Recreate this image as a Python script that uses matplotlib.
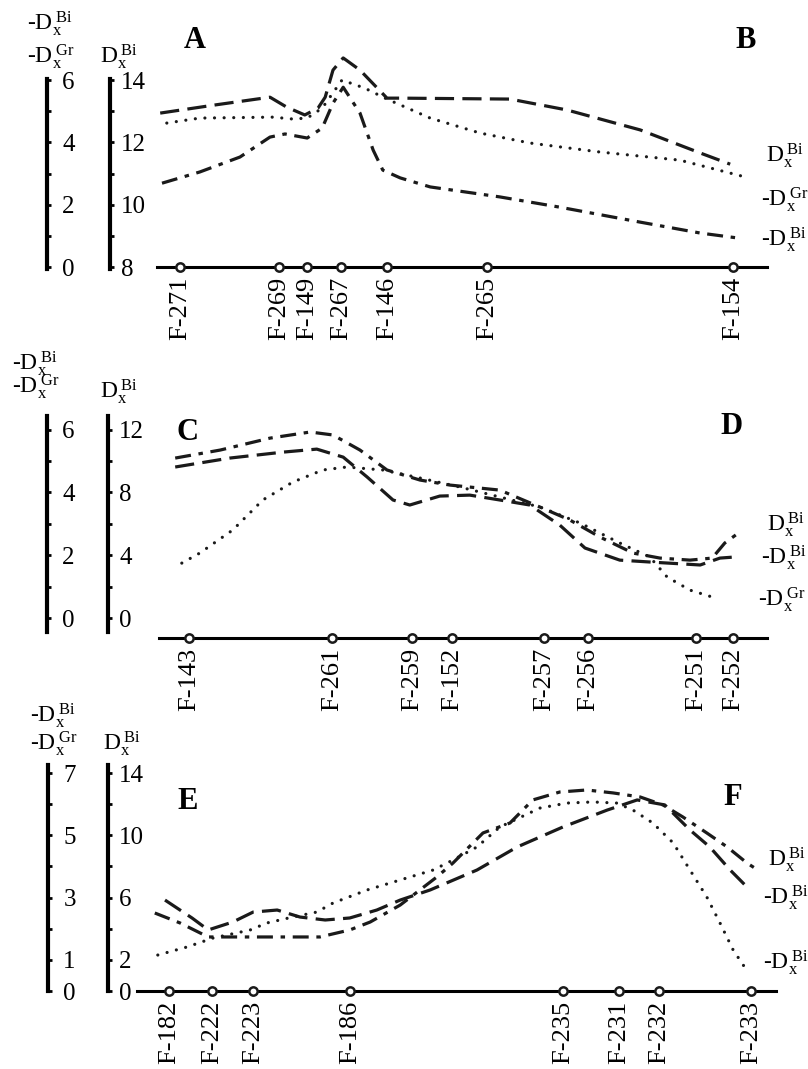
import matplotlib
matplotlib.use('Agg')
import matplotlib.pyplot as plt

plt.rcParams['font.family'] = 'serif'
plt.rcParams['font.serif'] = ['Liberation Serif', 'DejaVu Serif']
plt.rcParams['mathtext.fontset'] = 'custom'
plt.rcParams['mathtext.rm'] = 'Liberation Serif'
plt.rcParams['mathtext.it'] = 'Liberation Serif:italic'
plt.rcParams['mathtext.bf'] = 'Liberation Serif:bold'

#%% data : wells along the profiles (distance, arbitrary units)

wells_ab = ['F-271', 'F-269', 'F-149', 'F-267', 'F-146', 'F-265', 'F-154']
wells_ab_x = [5.0, 21.5, 26.2, 31.8, 39.5, 56.2, 97.2]

wells_cd = ['F-143', 'F-261', 'F-259', 'F-152', 'F-257', 'F-256', 'F-251', 'F-252']
wells_cd_x = [6.5, 30.3, 43.7, 50.3, 65.7, 73.0, 91.0, 97.2]

wells_ef = ['F-182', 'F-222', 'F-223', 'F-186', 'F-235', 'F-231', 'F-232', 'F-233']
wells_ef_x = [3.2, 10.3, 17.2, 33.3, 68.8, 78.2, 84.8, 100.2]

# profile A-B
ab_dash_x = [1.7, 10.8, 20.0, 22.8, 25.8, 28.0, 29.2, 30.5, 32.2, 35.0, 39.5, 41.7,
             60.0, 69.5, 81.7, 91.7, 96.7]
ab_dash_y = [12.94, 13.20, 13.45, 13.13, 12.88, 13.10, 13.45, 14.32, 14.71, 14.32, 13.42, 13.42,
             13.39, 13.04, 12.40, 11.66, 11.30]
ab_dot_x = [2.8, 8.3, 20.5, 23.8, 26.2, 28.7, 32.0, 35.8, 39.5, 46.7, 55.0, 63.3, 75.0, 88.3, 99.2]
ab_dot_y = [12.62, 12.78, 12.81, 12.75, 12.78, 13.10, 14.00, 13.74, 13.39, 12.78, 12.30, 11.98,
            11.69, 11.43, 10.89]
ab_dd_x = [2.0, 8.3, 15.0, 20.0, 22.5, 26.2, 28.7, 30.5, 32.2, 35.0, 37.2, 38.8, 41.7, 46.7,
           58.3, 68.3, 81.7, 91.7, 98.0]
ab_dd_y = [10.69, 11.05, 11.53, 12.17, 12.27, 12.14, 12.46, 13.26, 13.77, 12.94, 11.75, 11.11,
           10.86, 10.57, 10.25, 9.92, 9.44, 9.09, 8.93]

# profile C-D
cd_dash_x = [4.2, 13.3, 22.2, 27.8, 32.2, 36.2, 40.5, 43.3, 48.3, 53.3, 58.3, 63.3, 68.3, 72.5,
             78.3, 83.3, 91.7, 95.0, 97.5]
cd_dash_y = [9.62, 10.19, 10.57, 10.76, 10.25, 8.98, 7.52, 7.20, 7.77, 7.83, 7.52, 7.20, 5.92,
             4.46, 3.69, 3.57, 3.38, 3.82, 3.89]
cd_dot_x = [5.3, 8.3, 13.8, 18.8, 23.8, 28.8, 32.8, 38.8, 45.0, 51.7, 58.3, 65.0, 71.7, 78.3,
            83.3, 86.2, 90.0, 93.7]
cd_dot_y = [3.50, 4.14, 5.61, 7.52, 8.66, 9.43, 9.62, 9.43, 8.92, 8.34, 7.71, 7.07, 6.05, 4.78,
            3.89, 2.61, 1.78, 1.34]
cd_dd_x = [4.2, 11.7, 20.0, 26.7, 30.5, 35.0, 39.5, 45.0, 50.0, 58.3, 65.0, 70.0, 75.0, 80.5,
           85.0, 90.0, 93.7, 95.8, 98.3]
cd_dd_y = [10.19, 10.70, 11.46, 11.85, 11.66, 10.70, 9.43, 8.79, 8.47, 8.15, 7.07, 6.24, 5.16,
           4.14, 3.82, 3.69, 3.82, 4.78, 5.48]

# profile E-F
ef_dash_x = [2.5, 7.0, 9.7, 13.8, 17.2, 21.2, 25.0, 29.2, 33.3, 37.8, 41.7, 46.7, 54.5, 61.2,
             68.8, 76.2, 81.2, 85.8, 90.0, 93.3, 96.7, 99.5]
ef_dash_y = [5.84, 4.69, 3.92, 4.43, 5.07, 5.20, 4.75, 4.56, 4.69, 5.20, 5.84, 6.49, 7.77, 9.25,
             10.53, 11.62, 12.27, 11.95, 10.34, 9.25, 7.77, 6.68]
ef_dot_x = [1.3, 6.2, 10.5, 16.7, 19.5, 23.8, 27.8, 30.5, 36.2, 41.7, 47.2, 50.5, 54.5, 58.3,
            65.0, 69.5, 73.8, 77.8, 80.5, 83.8, 87.2, 90.0, 92.8, 95.0, 97.2, 99.2]
ef_dot_y = [2.31, 2.83, 3.40, 3.92, 4.37, 4.75, 5.07, 5.65, 6.49, 7.13, 7.77, 8.41, 9.25, 10.53,
            11.75, 12.07, 12.14, 12.07, 11.62, 10.79, 9.51, 7.77, 6.04, 4.37, 2.63, 1.48]
ef_dd_x = [0.8, 5.0, 9.7, 13.8, 21.7, 28.3, 33.3, 36.7, 41.7, 47.8, 50.5, 55.5, 60.0, 63.8, 68.3,
           72.8, 77.2, 81.7, 85.5, 88.8, 92.8, 96.2, 99.5, 101.3]
ef_dd_y = [5.01, 4.37, 3.47, 3.47, 3.47, 3.47, 3.92, 4.43, 5.52, 7.32, 8.22, 10.15, 10.79, 12.27,
           12.78, 12.91, 12.72, 12.46, 11.95, 11.18, 10.15, 9.25, 8.22, 7.77]

#%% styles

D_BI = r'D$_\mathrm{x}^{\;\mathrm{Bi}}$'
MD_BI = r'-D$_\mathrm{x}^{\;\mathrm{Bi}}$'
MD_GR = r'-D$_\mathrm{x}^{\;\mathrm{Gr}}$'

LW = 2.3
dash_kw = dict(color='#1a1a1a', lw=LW, dashes=(6.0, 2.6))
dot_kw = dict(color='#1a1a1a', lw=LW, dashes=(0.01, 3.0), dash_capstyle='round')
dd_kw = dict(color='#1a1a1a', lw=LW, dashes=(5.0, 2.4, 1.4, 2.4))

W, H = 808, 1069
fig = plt.figure(figsize=(W / 100, H / 100), dpi=100)
XLIM = (-25, 109.67)
FS = 18    # tick labels
WFS = 19   # well names
LFS = 17   # curve / axis names


def panel(top, bot, ylim, ratio, shift, inner_x, outer_x, base, wells, wells_x,
          in_major, in_minor, in_bounds, out_major, out_minor, out_bounds):
    ax = fig.add_axes([0, 1 - bot / H, 1, (bot - top) / H])
    ax2 = ax.twinx()
    for a in (ax, ax2):
        a.patch.set_alpha(0)
        a.spines['left'].set_visible(False)
        a.spines['top'].set_visible(False)
    ax.set_xlim(XLIM)
    ax.set_ylim(ylim)
    ax.spines['bottom'].set_bounds(*base)
    ax.spines['bottom'].set_linewidth(2.2)
    ax2.spines['bottom'].set_visible(False)
    ax.set_xticks(wells_x, wells, rotation=90, fontsize=WFS)
    ax.tick_params(axis='x', length=0, pad=7)
    ax.plot(wells_x, [ylim[0]] * len(wells_x), 'o', ms=6, mfc='white', mec='#1a1a1a',
            mew=1.8, clip_on=False, zorder=5)

    # inner axis (D_x^Bi)
    ax.yaxis.tick_right()
    ax.yaxis.set_label_position('right')
    ax.spines['right'].set_position(('data', inner_x))
    ax.spines['right'].set_bounds(*in_bounds)
    ax.spines['right'].set_linewidth(3)
    ax.set_yticks(in_major)
    ax.set_yticks(in_minor, minor=True)
    ax.tick_params(axis='y', which='both', direction='out', length=3, width=2, pad=5,
                   labelsize=FS)

    # outer axis (-D_x^Bi, -D_x^Gr)
    ax2.set_ylim((ylim[0] - shift) / ratio, (ylim[1] - shift) / ratio)
    ax2.spines['right'].set_position(('data', outer_x))
    ax2.spines['right'].set_bounds(*out_bounds)
    ax2.spines['right'].set_linewidth(3)
    ax2.set_yticks(out_major)
    ax2.set_yticks(out_minor, minor=True)
    ax2.tick_params(axis='y', which='both', direction='out', length=3, width=2, pad=8,
                    labelsize=FS)
    return ax


# ---- A - B
ax = panel(0, 267, (8, 16.57), 1, 8, -6.7, -17.2, (1.2, 102.8), wells_ab, wells_ab_x,
           [8, 10, 12, 14], [9, 11, 13], (7.95, 14.05), [0, 2, 4, 6], [1, 3, 5], (-0.05, 6.05))
ax.plot(ab_dash_x, ab_dash_y, **dash_kw)
ax.plot(ab_dot_x, ab_dot_y, **dot_kw)
ax.plot(ab_dd_x, ab_dd_y, **dd_kw)
ax.text(7.5, 15.28, 'A', fontsize=22, fontweight='bold', ha='center', va='center')
ax.text(99.2, 15.28, 'B', fontsize=22, fontweight='bold', ha='center', va='center')
ax.text(102.7, 11.59, D_BI, fontsize=LFS, ha='left', va='center')
ax.text(101.8, 10.15, MD_GR, fontsize=LFS, ha='left', va='center')
ax.text(101.8, 8.87, MD_BI, fontsize=LFS, ha='left', va='center')
ax.text(-20.5, 15.60, MD_BI, fontsize=LFS, ha='left', va='baseline')
ax.text(-20.5, 14.54, MD_GR, fontsize=LFS, ha='left', va='baseline')
ax.text(-8.3, 14.54, D_BI, fontsize=LFS, ha='left', va='baseline')

# ---- C - D
ax = panel(340, 638, (-1.27, 17.71), 2, 0, -7.0, -17.2, (1.5, 102.8), wells_cd, wells_cd_x,
           [0, 4, 8, 12], [2, 6, 10], (-0.9, 12.9), [0, 2, 4, 6], [1, 3, 5], (-0.45, 6.45))
ax.plot(cd_dash_x, cd_dash_y, **dash_kw)
ax.plot(cd_dot_x, cd_dot_y, **dot_kw)
ax.plot(cd_dd_x, cd_dd_y, **dd_kw)
ax.text(6.2, 11.85, 'C', fontsize=22, fontweight='bold', ha='center', va='center')
ax.text(97.0, 12.17, 'D', fontsize=22, fontweight='bold', ha='center', va='center')
ax.text(102.8, 5.92, D_BI, fontsize=LFS, ha='left', va='center')
ax.text(101.8, 3.82, MD_BI, fontsize=LFS, ha='left', va='center')
ax.text(101.3, 1.15, MD_GR, fontsize=LFS, ha='left', va='center')
ax.text(-23.0, 15.80, MD_BI, fontsize=LFS, ha='left', va='baseline')
ax.text(-23.0, 14.33, MD_GR, fontsize=LFS, ha='left', va='baseline')
ax.text(-8.3, 14.01, D_BI, fontsize=LFS, ha='left', va='baseline')

# ---- E - F
ax = panel(695, 991, (0, 19.01), 2, 0, -7.0, -17.0, (-2.2, 104.3), wells_ef, wells_ef_x,
           [0, 2, 6, 10, 14], [4, 8, 12], (0, 14.5), [0, 1, 3, 5, 7], [2, 4, 6], (0, 7.25))
ax.plot(ef_dash_x, ef_dash_y, **dash_kw)
ax.plot(ef_dot_x, ef_dot_y, **dot_kw)
ax.plot(ef_dd_x, ef_dd_y, **dd_kw)
ax.text(6.3, 12.14, 'E', fontsize=22, fontweight='bold', ha='center', va='center')
ax.text(97.2, 12.40, 'F', fontsize=22, fontweight='bold', ha='center', va='center')
ax.text(103.0, 8.41, D_BI, fontsize=LFS, ha='left', va='center')
ax.text(102.2, 5.97, MD_BI, fontsize=LFS, ha='left', va='center')
ax.text(102.2, 1.80, MD_BI, fontsize=LFS, ha='left', va='center')
ax.text(-20.0, 17.28, MD_BI, fontsize=LFS, ha='left', va='baseline')
ax.text(-20.0, 15.48, MD_GR, fontsize=LFS, ha='left', va='baseline')
ax.text(-7.8, 15.48, D_BI, fontsize=LFS, ha='left', va='baseline')

fig.savefig('out.png', dpi=100)
